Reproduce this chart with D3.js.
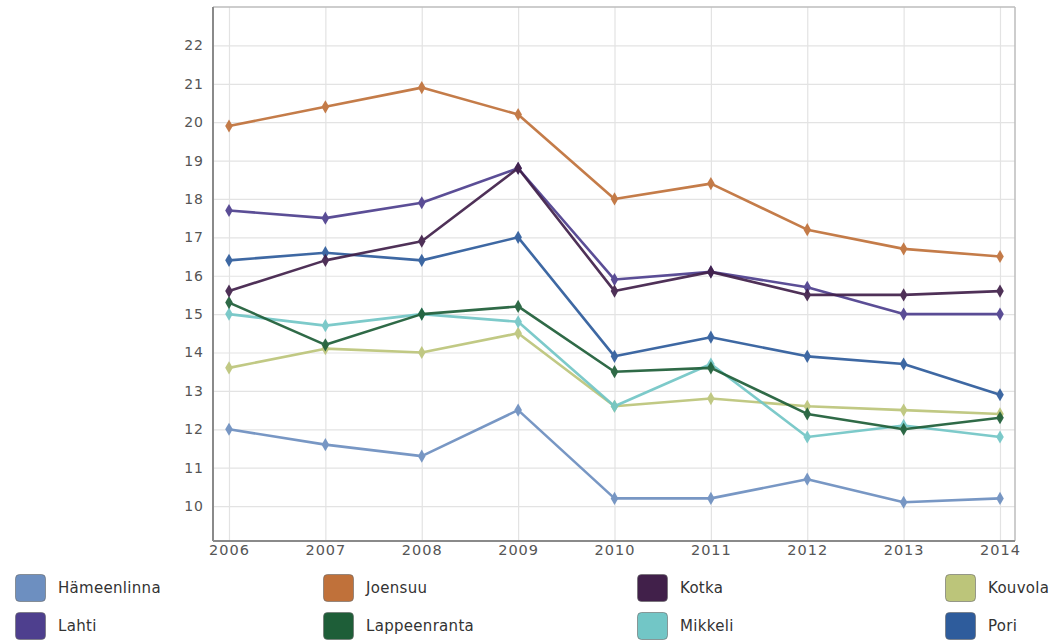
<!DOCTYPE html>
<html><head><meta charset="utf-8">
<script src="https://cdn.jsdelivr.net/npm/d3@7"></script>
<style>body{margin:0;background:#fff;}svg{display:block;}</style>
</head><body>
<svg id="c" width="1058" height="640"></svg>
<script>
const years = [2006, 2007, 2008, 2009, 2010, 2011, 2012, 2013, 2014];
const yTicks = [10, 11, 12, 13, 14, 15, 16, 17, 18, 19, 20, 21, 22];
const seriesNames = ["Hämeenlinna", "Joensuu", "Kotka", "Kouvola", "Lahti", "Lappeenranta", "Mikkeli", "Pori"];
const seriesColors = ["#6d8fc0", "#c0713a", "#41204a", "#bcc57a", "#4e3f8e", "#1e5e38", "#72c6c6", "#2e5c9c"];
const hameenlinna = [12.0, 11.6, 11.3, 12.5, 10.2, 10.2, 10.7, 10.1, 10.2];
const joensuu = [19.9, 20.4, 20.9, 20.2, 18.0, 18.4, 17.2, 16.7, 16.5];
const kotka = [15.6, 16.4, 16.9, 18.8, 15.6, 16.1, 15.5, 15.5, 15.6];
const kouvola = [13.6, 14.1, 14.0, 14.5, 12.6, 12.8, 12.6, 12.5, 12.4];
const lahti = [17.7, 17.5, 17.9, 18.8, 15.9, 16.1, 15.7, 15.0, 15.0];
const lappeenranta = [15.3, 14.2, 15.0, 15.2, 13.5, 13.6, 12.4, 12.0, 12.3];
const mikkeli = [15.0, 14.7, 15.0, 14.8, 12.6, 13.7, 11.8, 12.1, 11.8];
const pori = [16.4, 16.6, 16.4, 17.0, 13.9, 14.4, 13.9, 13.7, 12.9];
const seriesValues = [hameenlinna, joensuu, kotka, kouvola, lahti, lappeenranta, mikkeli, pori];
// drawing order (back to front)
const drawOrder = [0, 1, 3, 6, 5, 7, 4, 2];

const svg = d3.select("#c");
const L = 213, R = 1015, T = 7, B = 541;
const x = d3.scaleLinear().domain([2006, 2014]).range([229, 1000]);
const y = d3.scaleLinear().domain([9.09, 23]).range([B, T]);
const font = "'DejaVu Sans', sans-serif";

// grid
const g = svg.append("g");
g.append("g").attr("transform", `translate(${L},0)`)
  .call(d3.axisLeft(y).tickValues(yTicks).tickSize(-(R - L)).tickFormat(""))
  .call(a => a.select(".domain").remove())
  .call(a => a.selectAll("line").attr("stroke", "#e3e3e3").attr("stroke-width", 1.2));
g.append("g").attr("transform", `translate(0,${B})`)
  .call(d3.axisBottom(x).tickValues(years).tickSize(-(B - T)).tickFormat(""))
  .call(a => a.select(".domain").remove())
  .call(a => a.selectAll("line").attr("stroke", "#e3e3e3").attr("stroke-width", 1.2));

// frame
svg.append("line").attr("x1", L).attr("x2", R).attr("y1", T).attr("y2", T).attr("stroke", "#bdbdbd").attr("stroke-width", 1.5);
svg.append("line").attr("x1", R).attr("x2", R).attr("y1", T).attr("y2", B).attr("stroke", "#bdbdbd").attr("stroke-width", 1.5);
svg.append("line").attr("x1", L).attr("x2", L).attr("y1", T).attr("y2", B).attr("stroke", "#8a8a8a").attr("stroke-width", 2);
svg.append("line").attr("x1", L).attr("x2", R).attr("y1", B).attr("y2", B).attr("stroke", "#8a8a8a").attr("stroke-width", 2);

// tick labels
const yl = svg.append("g").attr("transform", `translate(${L - 9},0)`)
  .call(d3.axisLeft(y).tickValues(yTicks).tickSize(0).tickPadding(0));
yl.select(".domain").remove();
yl.selectAll("text").attr("font-family", font).attr("font-size", 14).attr("fill", "#555").attr("letter-spacing", 1);
const xl = svg.append("g").attr("transform", `translate(0,${B + 4})`)
  .call(d3.axisBottom(x).tickValues(years).tickSize(0).tickPadding(0).tickFormat(d3.format("d")));
xl.select(".domain").remove();
xl.selectAll("text").attr("font-family", font).attr("font-size", 14.5).attr("fill", "#555").attr("letter-spacing", 1);

// lines
const line = d3.line().x((d, i) => x(years[i])).y(d => y(d));
const diamond = d3.symbol().type(d3.symbolDiamond).size(50);
drawOrder.forEach(si => {
  const vals = seriesValues[si];
  const sg = svg.append("g").attr("opacity", 0.92);
  sg.append("path").datum(vals).attr("d", line).attr("fill", "none")
    .attr("stroke", seriesColors[si]).attr("stroke-width", 2.6).attr("stroke-linejoin", "round");
  sg.selectAll("path.m").data(vals).join("path").attr("class", "m")
    .attr("d", diamond).attr("transform", (d, i) => `translate(${x(years[i])},${y(d)})`)
    .attr("fill", seriesColors[si]);
});

// legend
const colX = [15, 323, 637, 945];
const rowY = [574, 612];
seriesNames.forEach((n, i) => {
  const cx = colX[i % 4], cy = rowY[Math.floor(i / 4)];
  const lg = svg.append("g").attr("transform", `translate(${cx},${cy})`);
  lg.append("rect").attr("x", 0.5).attr("y", 0.5).attr("width", 30).attr("height", 27).attr("rx", 4)
    .attr("fill", seriesColors[i]).attr("stroke", "#666").attr("stroke-opacity", 0.6);
  lg.append("text").attr("x", 43).attr("y", 14).attr("dy", "0.35em")
    .attr("font-family", font).attr("font-size", 15).attr("letter-spacing", 0.3).attr("fill", "#333").text(n);
});
</script>
</body></html>
